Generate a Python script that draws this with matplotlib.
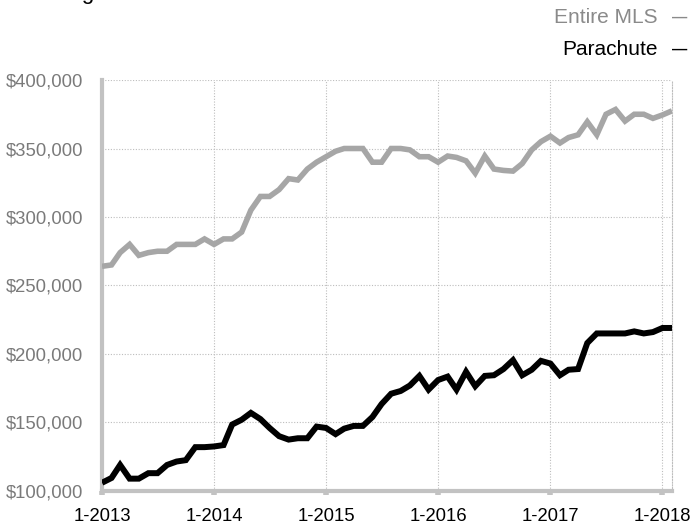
import pandas as pd
import matplotlib
matplotlib.use("Agg")
import matplotlib.pyplot as plt
import matplotlib.dates as mdates
from matplotlib.ticker import FuncFormatter

plt.rcParams['font.family'] = ['Liberation Sans', 'DejaVu Sans']

# monthly values, Jan 2013 .. Feb 2018
months = pd.date_range("2013-01-01", periods=62, freq="MS")

entire_mls = [264000, 265000, 274000, 280000, 272000, 274000, 275000, 275000, 280000, 280000,
              280000, 284000, 280000, 284000, 284000, 289000, 305000, 315000, 315000, 320000,
              328000, 327000, 335000, 340000, 344000, 348000, 350000, 350000, 350000, 340000,
              340000, 350000, 350000, 349000, 344000, 344000, 340000, 344500, 343500, 341000,
              332000, 344500, 335000, 334000, 333500, 339000, 349000, 355000, 359000, 354000,
              358000, 360000, 369500, 360000, 375000, 378500, 370000, 375000, 375000, 372000,
              374500, 377500]

parachute = [106000, 109500, 119000, 109000, 109000, 113000, 113000, 119000, 121500, 122500,
             132000, 132000, 132500, 133500, 148500, 152000, 157000, 152500, 146000, 140000,
             137500, 138500, 138500, 147000, 146000, 141500, 145500, 147500, 147500, 154000,
             163500, 171000, 173000, 177000, 184000, 174000, 181000, 183500, 174000, 187000,
             176500, 184000, 184500, 189000, 195500, 184500, 188500, 195000, 193000, 184500,
             188500, 189000, 208000, 215000, 215000, 215000, 215000, 216500, 215000, 216000,
             219000, 219000]

title_main = "Average"
title_sub = "Median Sale Price Trend"

fig = plt.figure(figsize=(6.92, 5.25), dpi=100)
ax = fig.add_axes([0.1474, 0.0648, 0.8237, 0.7828])

ax.plot(months, entire_mls, color="#a6a6a6", linewidth=4, solid_joinstyle="miter",
        solid_capstyle="butt", zorder=3)
ax.plot(months, parachute, color="black", linewidth=4.3, solid_joinstyle="miter",
        solid_capstyle="butt", zorder=4)

ax.set_xlim(pd.Timestamp("2013-01-01"), pd.Timestamp("2018-02-01"))
ax.set_ylim(100000, 400000)
ax.set_yticks(range(100000, 400001, 50000))
ax.yaxis.set_major_formatter(FuncFormatter(lambda v, p: "${:,.0f}".format(v)))
ax.xaxis.set_major_locator(mdates.YearLocator())
ax.xaxis.set_major_formatter(mdates.DateFormatter("1-%Y"))

ax.grid(True, linestyle=(0, (1, 1.5)), color="#bdbdbd", linewidth=0.8, zorder=0)
ax.set_axisbelow(True)

for s in ["left", "bottom"]:
    ax.spines[s].set_color("#c2c2c2")
    ax.spines[s].set_linewidth(3)
ax.spines["top"].set_visible(False)
ax.spines["right"].set_color("#bdbdbd")
ax.spines["right"].set_linestyle((0, (1, 1.5)))
ax.spines["right"].set_linewidth(0.8)

ax.tick_params(axis="y", length=0, pad=13.5, labelsize=13.3, labelcolor="#7a7a7a")
ax.tick_params(axis="x", length=3, width=4, color="#c2c2c2", pad=9, labelsize=13.3,
               labelcolor="black")

# legend-like labels top right
fig.text(0.95, 0.966, "Entire MLS", ha="right", va="center", fontsize=15, color="#8a8a8a")
fig.text(0.993, 0.966, "\u2014", ha="right", va="center", fontsize=11, color="#8a8a8a",
         fontweight="bold")
fig.text(0.95, 0.905, "Parachute", ha="right", va="center", fontsize=15, color="black")
fig.text(0.993, 0.905, "\u2014", ha="right", va="center", fontsize=11, color="black",
         fontweight="bold")

# title, cropped at the top of the image
fig.text(0.036, 1.002, title_main, ha="left", va="baseline", fontsize=16, color="black")
fig.text(0.2, 1.002, title_sub, ha="left", va="baseline", fontsize=16, color="#8a8a8a")

fig.savefig("out.png", dpi=100)
